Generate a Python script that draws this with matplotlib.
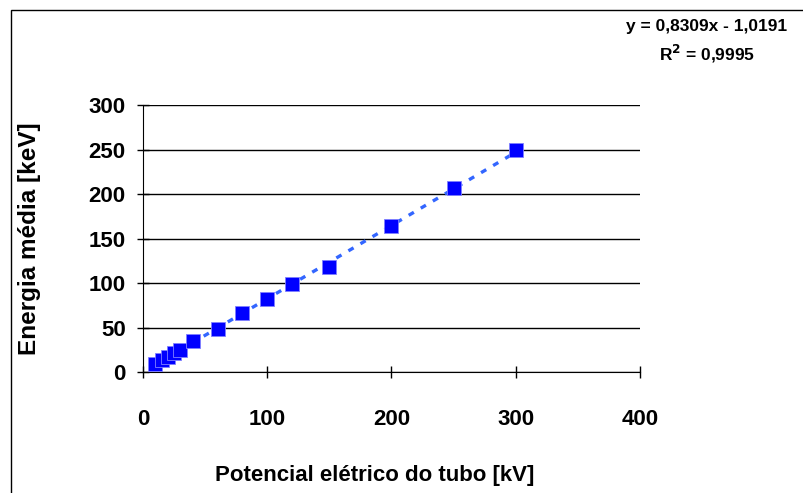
import numpy as np
import matplotlib
matplotlib.use('Agg')
import matplotlib.pyplot as plt
from matplotlib.patches import Rectangle

plt.rcParams['font.family'] = ['Liberation Sans', 'DejaVu Sans']
plt.rcParams['font.weight'] = 'bold'

# data
potencial_kv = [10, 15, 20, 25, 30, 40, 60, 80, 100, 120, 150, 200, 250, 300]
energia_kev = [9, 13, 17, 21, 25, 35, 48, 66, 82, 99, 118, 164, 207, 249]
x_ticks = [0, 100, 200, 300, 400]
y_ticks = [0, 50, 100, 150, 200, 250, 300]

fig = plt.figure(figsize=(8.04, 4.93), dpi=100)
fig.patches.append(Rectangle((11 / 804, -0.1), 1.2, 1.1 - 10 / 493, transform=fig.transFigure,
                             fill=False, edgecolor='black', linewidth=1.0))

ax = fig.add_axes([143 / 804, 1 - 372 / 493, (640 - 143) / 804, (372 - 105) / 493])

# linear trendline
coef = np.polyfit(potencial_kv, energia_kev, 1)
xs = np.array([min(potencial_kv), max(potencial_kv)])
ax.plot(xs, np.polyval(coef, xs), color='#3366FF', linewidth=2.4,
        linestyle=(0, (1.8, 2.4)), zorder=2)

ax.plot(potencial_kv, energia_kev, linestyle='none', marker='s', markersize=9.5,
        markerfacecolor='#0000FF', markeredgecolor='#8080FF', markeredgewidth=0.6, zorder=3)

ax.set_xlim(0, 400)
ax.set_ylim(0, 300)
ax.set_xticks(x_ticks)
ax.set_yticks(y_ticks)
ax.yaxis.grid(True, color='black', linewidth=1.0)
ax.set_axisbelow(True)
for s in ['top', 'right']:
    ax.spines[s].set_visible(False)
ax.tick_params(axis='both', direction='inout', length=9, width=1.0, labelsize=16)
ax.tick_params(axis='x', pad=22)
ax.tick_params(axis='y', pad=8)

fig.text(30 / 804, 1 - 239 / 493, 'Energia média [keV]', rotation=90, ha='center', va='center',
         fontsize=17.5, fontweight='bold')
fig.text(375 / 804, 1 - 476 / 493, 'Potencial elétrico do tubo [kV]', ha='center', va='center',
         fontsize=16, fontweight='bold')
fig.text(707 / 804, 1 - 27 / 493, 'y = 0,8309x - 1,0191', ha='center', va='center',
         fontsize=12.5, fontweight='bold')
fig.text(707 / 804, 1 - 54 / 493, r'R$^\mathbf{2}$ = 0,9995', ha='center', va='center',
         fontsize=12.5, fontweight='bold')

fig.savefig('out.png', dpi=100)
